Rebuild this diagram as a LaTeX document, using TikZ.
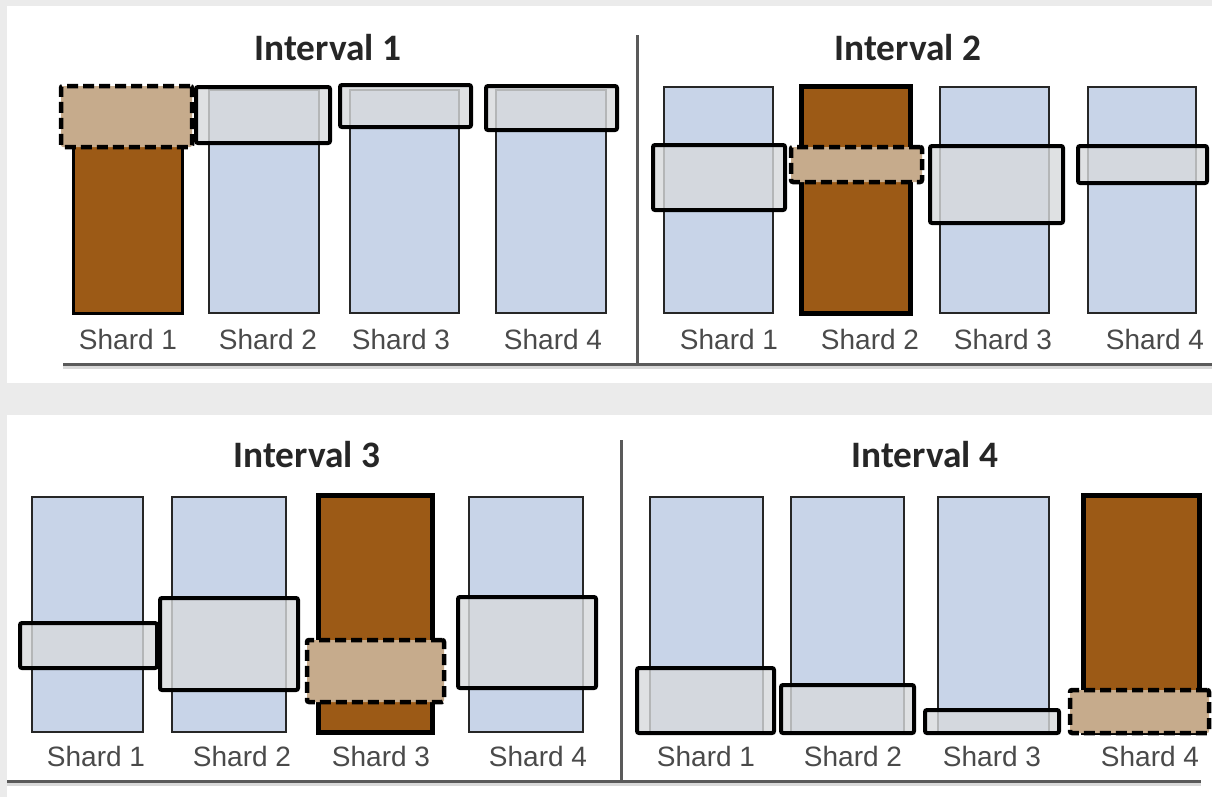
\documentclass[tikz,border=0pt]{standalone}
\usepackage{fontspec}
\setmainfont{Liberation Sans}
\newfontfamily\titlefont{Carlito}
\newlength\pxu \setlength\pxu{0.75pt}
\definecolor{bgray}{HTML}{EBEBEB}
\definecolor{shblue}{HTML}{C8D4E8}
\definecolor{shbrown}{HTML}{9C5A16}
\definecolor{ovgray}{HTML}{D8DADC}
\definecolor{ovtan}{HTML}{C6AB8C}
\definecolor{lblgray}{HTML}{4A4A4A}
\definecolor{rulegray}{HTML}{5A5A5A}
\tikzset{
  blueshard/.style={draw=black!85, line width=2\pxu, fill=shblue},
  hotshard/.style={draw=black, line width=5\pxu, fill=shbrown},
  hotshardA/.style={draw=black, line width=3\pxu, fill=shbrown},
  win/.style={draw=black, line width=4\pxu, fill=ovgray, fill opacity=0.8, rounded corners=2\pxu},
  hotwin/.style={draw=black, line width=4.5\pxu, fill=ovtan, dash pattern=on 11\pxu off 5\pxu, rounded corners=2\pxu},
  ivtitle/.style={font=\titlefont\bfseries\fontsize{28}{32}\selectfont, text=black!85},
  lbl/.style={font=\fontsize{21}{24}\selectfont, text=lblgray},
  rulel/.style={draw=rulegray, line width=3\pxu},
}
% #1 name, #2 style, #3 x1, #4 y1, #5 x2, #6 y2  (pixel coordinates, y down)
\newcommand\bx[6]{\node[#2, inner sep=0pt, outer sep=0pt,
  minimum width={(#5-#3)*\pxu}, minimum height={(#6-#4)*\pxu}]
  (#1) at ({(#3+#5)/2},{(#4+#6)/2}) {};}
\begin{document}
\begin{tikzpicture}[x=0.75pt, y=-0.75pt]
\useasboundingbox (0,0) rectangle (1212,797);
\fill[bgray] (0,0) rectangle (1212,797);
\fill[white] (7,6) rectangle (1212,383);
\fill[white] (7,415) rectangle (1212,797);

% ---------- top panel ----------
\node[ivtitle] (t1) at (328,48) {Interval 1};
\node[ivtitle] (t2) at (908,48) {Interval 2};

% Interval 1
\bx{a1}{hotshardA}{73}{90}{182}{313}
\bx{a2}{blueshard}{209}{90}{319}{313}
\bx{a3}{blueshard}{350}{90}{459}{313}
\bx{a4}{blueshard}{496}{90}{606}{313}
\bx{aw1}{hotwin}{61}{86}{192}{147}
\bx{aw2}{win}{196}{87}{330}{143}
\bx{aw3}{win}{340}{85}{471}{127}
\bx{aw4}{win}{486}{86}{617}{130}
\node[lbl] (al1) at (128,339) {Shard 1};
\node[lbl] (al2) at (268,339) {Shard 2};
\node[lbl] (al3) at (401,339) {Shard 3};
\node[lbl] (al4) at (553,339) {Shard 4};

% Interval 2
\bx{b1}{blueshard}{664}{87}{773}{313}
\bx{b2}{hotshard}{801}{86}{910}{313}
\bx{b3}{blueshard}{940}{87}{1049}{313}
\bx{b4}{blueshard}{1088}{87}{1196}{313}
\bx{bw1}{win}{653}{145}{785}{210}
\bx{bw2}{hotwin}{791}{147}{922}{182}
\bx{bw3}{win}{930}{146}{1063}{223}
\bx{bw4}{win}{1078}{146}{1207}{183}
\node[lbl] (bl1) at (729,339) {Shard 1};
\node[lbl] (bl2) at (870,339) {Shard 2};
\node[lbl] (bl3) at (1003,339) {Shard 3};
\node[lbl] (bl4) at (1155,339) {Shard 4};

\coordinate (d1t) at (637,35);
\coordinate (d1b) at (637,364);
\coordinate (r1l) at (63,364);
\coordinate (r1r) at (1212,364);
\draw[draw=black!15, line width=3\pxu] ([yshift=-3\pxu]r1l) -- ([yshift=-3\pxu]r1r);
\draw[rulel] (r1l) -- (r1r);
\draw[rulel] (d1t) -- (d1b);

% ---------- bottom panel ----------
\node[ivtitle] (t3) at (307,455) {Interval 3};
\node[ivtitle] (t4) at (925,455) {Interval 4};

% Interval 3
\bx{c1}{blueshard}{32}{497}{143}{732}
\bx{c2}{blueshard}{172}{497}{286}{732}
\bx{c3}{hotshard}{318}{495}{432}{732}
\bx{c4}{blueshard}{469}{497}{583}{732}
\bx{cw1}{win}{20}{623}{157}{668}
\bx{cw2}{win}{160}{598}{298}{690}
\bx{cw3}{hotwin}{307}{640}{444}{702}
\bx{cw4}{win}{458}{597}{596}{688}
\node[lbl] (cl1) at (96,756) {Shard 1};
\node[lbl] (cl2) at (242,756) {Shard 2};
\node[lbl] (cl3) at (381,756) {Shard 3};
\node[lbl] (cl4) at (538,756) {Shard 4};

% Interval 4
\bx{e1}{blueshard}{650}{497}{763}{732}
\bx{e2}{blueshard}{791}{497}{904}{732}
\bx{e3}{blueshard}{938}{497}{1049}{732}
\bx{e4}{hotshard}{1083}{495}{1199}{732}
\bx{ew1}{win}{637}{668}{774}{733}
\bx{ew2}{win}{781}{685}{914}{733}
\bx{ew3}{win}{925}{710}{1059}{733}
\bx{ew4}{hotwin}{1070}{690}{1209}{733}
\node[lbl] (el1) at (706,756) {Shard 1};
\node[lbl] (el2) at (853,756) {Shard 2};
\node[lbl] (el3) at (992,756) {Shard 3};
\node[lbl] (el4) at (1150,756) {Shard 4};

\coordinate (d2t) at (621,440);
\coordinate (d2b) at (621,781);
\coordinate (r2l) at (7,781);
\coordinate (r2r) at (1201,781);
\draw[draw=black!15, line width=3\pxu] ([yshift=-3\pxu]r2l) -- ([yshift=-3\pxu]r2r);
\draw[rulel] (r2l) -- (r2r);
\draw[rulel] (d2t) -- (d2b);
\end{tikzpicture}
\end{document}
